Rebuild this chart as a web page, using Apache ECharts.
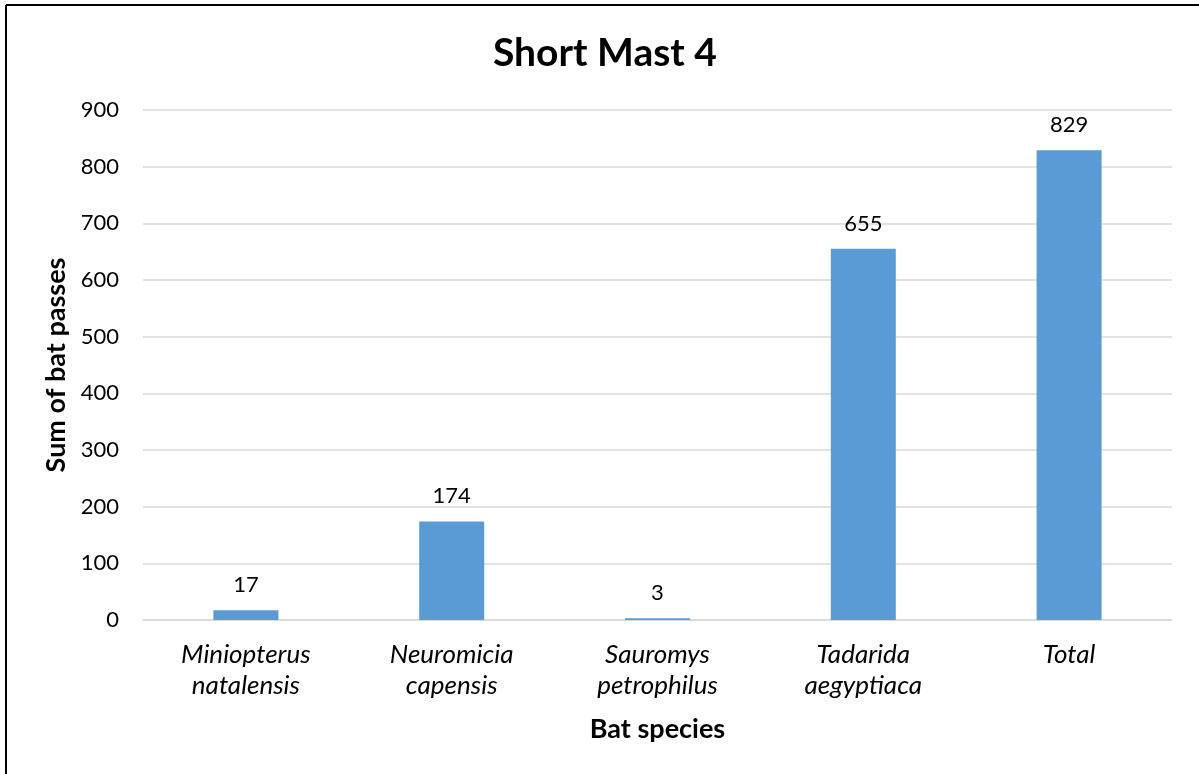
<!DOCTYPE html>
<html><head><meta charset="utf-8">
<script src="https://cdn.jsdelivr.net/npm/echarts@6/dist/echarts.min.js"></script>
<style>html,body{margin:0;padding:0;background:#fff}#c{width:1199px;height:774px}</style>
</head><body><div id="c"></div>
<script>
var categories = ['Miniopterus\nnatalensis', 'Neuromicia\ncapensis', 'Sauromys\npetrophilus', 'Tadarida\naegyptiaca', 'Total'];
var values = [17, 174, 3, 655, 829];
var yTicks = [0, 100, 200, 300, 400, 500, 600, 700, 800, 900];
var FONT = 'Lato, "Open Sans", sans-serif';
var chart = echarts.init(document.getElementById('c'), null, {renderer: 'canvas'});
chart.setOption({
  animation: false,
  title: {text: 'Short Mast 4', left: 488, top: 29, textStyle: {fontFamily: FONT, fontSize: 39, fontWeight: 'bold', color: '#000'}},
  graphic: [
    {type: 'line', shape: {x1: 6, y1: 5, x2: 1199, y2: 5}, style: {stroke: '#000', lineWidth: 2}},
    {type: 'line', shape: {x1: 6, y1: 5, x2: 6, y2: 774}, style: {stroke: '#000', lineWidth: 2}}
  ],
  grid: {left: 143, right: 27, top: 110, bottom: 154},
  xAxis: {
    type: 'category', data: categories,
    name: 'Bat species', nameLocation: 'middle', nameGap: 96,
    nameTextStyle: {fontFamily: FONT, fontSize: 27, fontWeight: 'bold', color: '#000'},
    axisLine: {lineStyle: {color: '#d9d9d9', width: 1.5}},
    axisTick: {show: false},
    axisLabel: {fontFamily: FONT, fontSize: 26, fontStyle: 'italic', color: '#000', margin: 19, lineHeight: 31, interval: 0}
  },
  yAxis: {
    type: 'value', min: yTicks[0], max: yTicks[yTicks.length - 1], interval: 100,
    name: 'Sum of bat passes', nameLocation: 'middle', nameGap: 72, nameRotate: 90,
    nameTextStyle: {fontFamily: FONT, fontSize: 27, fontWeight: 'bold', color: '#000'},
    axisLine: {show: false}, axisTick: {show: false},
    splitLine: {lineStyle: {color: '#d9d9d9', width: 1.5}},
    axisLabel: {fontFamily: FONT, fontSize: 22, color: '#000', margin: 24}
  },
  series: [{
    type: 'bar', data: values, barWidth: 65,
    itemStyle: {color: '#5b9bd5'},
    label: {show: true, position: 'top', distance: 14, fontFamily: FONT, fontSize: 22, color: '#000'}
  }]
});
</script></body></html>
